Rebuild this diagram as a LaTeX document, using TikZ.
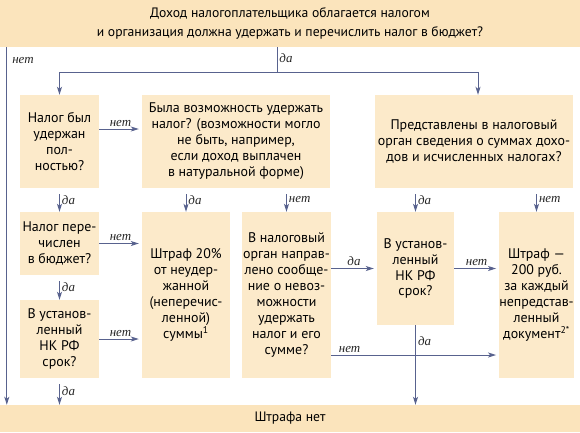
\documentclass[tikz,border=0pt]{standalone}
\usepackage{fontspec}
\setmainfont{PT Sans}
\newfontfamily\lblfont{Liberation Serif}
\usetikzlibrary{arrows.meta,calc}
\definecolor{ndfl}{RGB}{252,234,202}
\definecolor{ndflhead}{RGB}{251,228,188}
\definecolor{arrblue}{RGB}{88,98,142}
\tikzset{
  q/.style={fill=ndfl,align=center,inner sep=0pt,font=\fontsize{14}{16}\selectfont},
  bar/.style={fill=ndflhead,align=center,inner sep=0pt,minimum width=580bp,font=\fontsize{13.7}{19}\selectfont},
  lnk/.style={draw=arrblue,line width=1bp},
  arr/.style={lnk,-{Stealth[length=8bp,width=5bp,inset=2bp]}},
  varr/.style={arr,shorten <=6bp},
  harr/.style={arr,shorten >=3bp},
  yes/.style={font=\lblfont\itshape\fontsize{13}{13}\selectfont,text=black!85,inner sep=2pt}
}
\begin{document}
\begin{tikzpicture}[x=1bp,y=-1bp]
\useasboundingbox (0,0) rectangle (580,432);
\node[bar,minimum height=47bp] (head) at (290,23.5) {Доход налогоплательщика облагается налогом\\и организация должна удержать и перечислить налог в бюджет?};
\node[bar,minimum height=27bp] (none) at (290,418.5) {Штрафа нет};
\node[q,minimum width=79bp,minimum height=93bp] (qa) at (59.5,141.5) {Налог был\\удержан\\пол-\\ностью?};
\node[q,minimum width=188bp,minimum height=93bp] (qb) at (236,141.5) {Была возможность удержать\\налог? (возможности могло\\не быть, например,\\если доход выплачен\\в натуральной форме)};
\node[q,minimum width=198bp,minimum height=93bp] (qc) at (474,141.5) {Представлены в налоговый\\орган сведения о суммах дохо-\\дов и исчисленных налогах?};
\node[q,minimum width=79bp,minimum height=63bp] (qd) at (59.5,243.5) {Налог пере-\\числен\\в бюджет?};
\node[q,minimum width=79bp,minimum height=78bp] (qi) at (59.5,339) {В установ-\\ленный\\НК РФ\\срок?};
\node[q,minimum width=88bp,minimum height=166bp] (fine1) at (186,295) {Штраф 20\%\\от неудер-\\жанной\\(неперечис-\\ленной)\\суммы\textsuperscript{1}};
\node[q,minimum width=89bp,minimum height=166bp] (qf) at (286.5,295) {В налоговый\\орган направ-\\лено сообще-\\ние о невоз-\\можности\\удержать\\налог и его\\сумме?};
\node[q,minimum width=77bp,minimum height=113bp] (qg) at (415.5,268.5) {В установ-\\ленный\\НК РФ\\срок?};
\node[q,minimum width=73bp,minimum height=166bp] (fine2) at (536.5,295) {Штраф —\\200 руб.\\за каждый\\непредстав-\\ленный\\документ\textsuperscript{2*}};
\coordinate (fork) at (277,72);
\draw[lnk] (fork |- head.south) -- (fork) node[pos=0.45,right,yes] {да};
\draw[arr] (fork) -| (qa.north);
\draw[arr] (fork) -| ([xshift=4bp]qc.north);
\draw[arr] ([xshift=7bp]head.south west) -- ([xshift=7bp]none.north west) node[pos=0.036,right,yes,xshift=3bp] {нет};
\draw[harr] ([yshift=12.5bp]qa.east) -- ([yshift=12.5bp]qa.east -| qb.west) node[midway,above,yes] {нет};
\draw[varr] (qa) -- (qd) node[midway,right,yes] {да};
\draw[varr] (qb.south -| fine1) -- (fine1) node[midway,right,yes] {да};
\draw[varr] (qb.south -| qf) -- (qf) node[midway,right,yes] {нет};
\draw[varr] (qc.south -| qg) -- (qg) node[midway,right,yes] {да};
\draw[varr] (qc.south -| fine2) -- (fine2) node[midway,right,yes] {нет};
\draw[harr] (qd.east) -- (qd.east -| fine1.west) node[midway,above,yes] {нет};
\draw[varr] (qd) -- (qi) node[midway,right,yes] {да};
\draw[harr] (qi.east) -- (qi.east -| fine1.west) node[midway,above,yes] {нет};
\draw[varr] (qi) -- (qi |- none.north) node[midway,right,yes] {да};
\draw[harr] (qf.east |- qg) -- (qg.west) node[midway,above,yes] {да};
\draw[harr] (qg.east) -- (qg.east -| fine2.west) node[midway,above,yes] {нет};
\draw[harr] ([yshift=-60bp]qf.east) -- ([yshift=-60bp]qf.east -| fine2.west) node[pos=0.11,above,yes] {нет};
\draw[arr] (qg) -- (qg |- none.north) node[pos=0.2,right,yes] {да};
\end{tikzpicture}
\end{document}
